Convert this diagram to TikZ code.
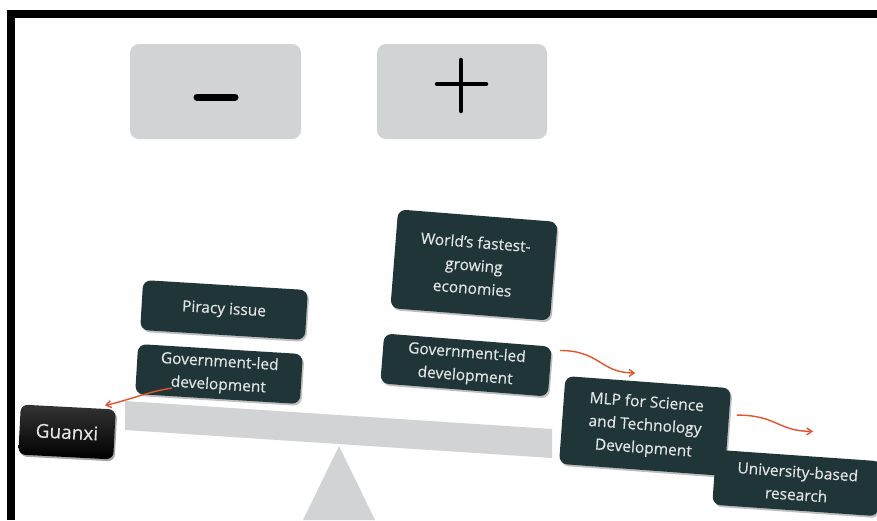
\documentclass[tikz,border=0pt]{standalone}
\usepackage{fontspec}
\setmainfont{Open Sans}[FakeBold=0.4]
\usetikzlibrary{arrows.meta,shadows,calc}
\definecolor{panelgray}{HTML}{D1D3D4}
\definecolor{darkteal}{HTML}{1F3538}
\definecolor{boxtext}{HTML}{E2E4E4}
\definecolor{arrowred}{HTML}{E5522C}
\tikzset{
  signbox/.style={fill=panelgray, rounded corners=9pt},
  darkbox/.style={fill=darkteal, text=boxtext, rounded corners=8pt, align=center,
    inner sep=0pt, font=\fontsize{15.5}{23}\selectfont,
    drop shadow={shadow xshift=1.5pt, shadow yshift=-2pt, fill=black, opacity=0.25}},
  blackbox/.style={top color=black!80, bottom color=black, text=boxtext, rounded corners=7pt,
    inner sep=0pt, font=\fontsize{19}{23}\selectfont,
    drop shadow={shadow xshift=1.5pt, shadow yshift=-2pt, fill=black, opacity=0.35}},
  flow/.style={draw=arrowred, line width=1.4pt, -{Straight Barb[length=5pt,width=7pt]}},
  signstroke/.style={line cap=round, draw=black}
}
\begin{document}
\begin{tikzpicture}[x=1pt,y=-1pt]
  \useasboundingbox (0,0) rectangle (877,520);
  \fill[white] (0,0) rectangle (877,520);
  % frame edges
  \fill[black] (7,10) rectangle (877,18);
  \fill[black] (7,10) rectangle (15,520);

  % minus / plus panels
  \fill[signbox] (130,44) rectangle (301,139);
  \fill[signbox] (377,44) rectangle (547,139);
  \draw[signstroke, line width=7pt] (197,97) -- (235,97);
  \draw[signstroke, line width=4.5pt] (437,84) -- (486,84);
  \draw[signstroke, line width=4.5pt] (461,60) -- (461,111);

  % seesaw
  \fill[panelgray] (339,446) -- (375,520) -- (303,520) -- cycle;
  \fill[panelgray] (125,401) -- (552,429) -- (552,458) -- (125,430) -- cycle;

  % left side boxes
  \node[darkbox, minimum width=165pt, minimum height=50pt, rotate=-3.5] (piracy) at (224,310) {Piracy issue};
  \node[darkbox, minimum width=165pt, minimum height=50pt, rotate=-3.5] (govL) at (219,374) {Government-led\\development};
  \node[blackbox, minimum width=95pt, minimum height=50pt, rotate=-3] (guanxi) at (67,432) {Guanxi};

  % right side boxes
  \node[darkbox, minimum width=160pt, minimum height=99pt, rotate=-4.5] (world) at (474,265) {World’s fastest-\\growing\\economies};
  \node[darkbox, minimum width=168pt, minimum height=50pt, rotate=-4.5] (govR) at (466,365) {Government-led\\development};
  \node[darkbox, minimum width=166pt, minimum height=88pt, rotate=-4.2] (mlp) at (645,426) {MLP for Science\\and Technology\\Development};
  \node[darkbox, minimum width=166pt, minimum height=55pt, rotate=-4] (univ) at (797,483) {University-based\\research};

  % connectors
  \draw[flow] ([xshift=37pt,yshift=6pt]govL.south west) .. controls +(-22,3) and +(20,-4) .. ([xshift=-11pt,yshift=4pt]guanxi.north east);
  \draw[flow] ([xshift=8pt,yshift=-4pt]govR.north east) .. controls +(40,0) and +(-35,0) .. ([xshift=-13pt,yshift=9pt]mlp.north);
  \draw[flow] ([xshift=9pt,yshift=17pt]mlp.east) .. controls +(40,0) and +(-35,0) .. ([xshift=14pt,yshift=24pt]univ.north);
\end{tikzpicture}
\end{document}
